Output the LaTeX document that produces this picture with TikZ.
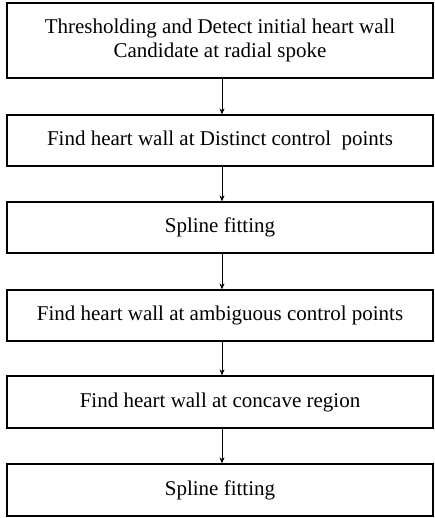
\documentclass[tikz,border=0pt]{standalone}
\usepackage{fontspec}
\setmainfont{Liberation Serif}
\usetikzlibrary{arrows.meta}
\begin{document}
\begin{tikzpicture}[x=1pt,y=1pt,
  stepbox/.style={draw, line width=1.2pt, minimum width=426pt, inner sep=0pt, align=center, font=\fontsize{21}{24}\selectfont},
  link/.style={-{Stealth[length=6pt,width=5pt]}, line width=0.7pt}]
\useasboundingbox (0,0) rectangle (434,518);
\node[stepbox, minimum height=75pt] (b1) at (220,477.5) {Thresholding and Detect initial heart wall\\Candidate at radial spoke};
\node[stepbox, minimum height=51pt] (b2) at (220,377.5) {Find heart wall at Distinct control\ \ points};
\node[stepbox, minimum height=51pt] (b3) at (220,290.5) {Spline fitting};
\node[stepbox, minimum height=51pt] (b4) at (220,202.5) {Find heart wall at ambiguous control points};
\node[stepbox, minimum height=52pt] (b5) at (220,116) {Find heart wall at concave region};
\node[stepbox, minimum height=52pt] (b6) at (220,28) {Spline fitting};
\draw[link] (b1.south -| 222,0) -- (b2.north -| 222,0);
\draw[link] (b2.south -| 222,0) -- (b3.north -| 222,0);
\draw[link] (b3.south -| 222,0) -- (b4.north -| 222,0);
\draw[link] (b4.south -| 222,0) -- (b5.north -| 222,0);
\draw[link] (b5.south -| 222,0) -- (b6.north -| 222,0);
\end{tikzpicture}
\end{document}
